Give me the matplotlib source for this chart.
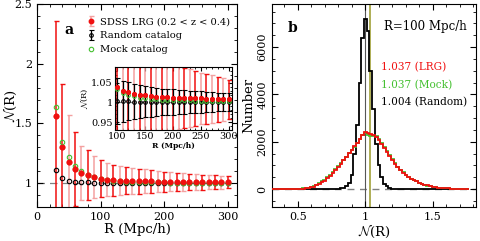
import matplotlib
matplotlib.use("Agg")
import matplotlib.pyplot as plt
from matplotlib.ticker import MultipleLocator, FormatStrFormatter
import numpy as np

plt.rcParams["font.family"] = ["DejaVu Serif"]
plt.rcParams["mathtext.fontset"] = "cm"

# panel a: N(R) versus R
radius = [30, 40, 50, 60, 70, 80, 90, 100, 110, 120, 130, 140, 150, 160, 170,
          180, 190, 200, 210, 220, 230, 240, 250, 260, 270, 280, 290, 300]
lrg_n = [1.56, 1.30, 1.18, 1.12, 1.085, 1.065, 1.05, 1.038, 1.030, 1.026, 1.022,
         1.020, 1.018, 1.016, 1.015, 1.014, 1.013, 1.012, 1.012, 1.011, 1.011,
         1.010, 1.010, 1.009, 1.009, 1.008, 1.008, 1.008]
lrg_err = [0.80, 0.53, 0.39, 0.31, 0.23, 0.21, 0.175, 0.155, 0.14, 0.13, 0.12,
           0.115, 0.11, 0.105, 0.10, 0.095, 0.09, 0.085, 0.08, 0.077, 0.073,
           0.07, 0.066, 0.063, 0.06, 0.057, 0.054, 0.05]
mock_n = [1.635, 1.345, 1.215, 1.14, 1.10, 1.07, 1.05, 1.033, 1.024, 1.020,
          1.016, 1.012, 1.010, 1.009, 1.008, 1.007, 1.006, 1.006, 1.005, 1.005,
          1.005, 1.004, 1.004, 1.004, 1.004, 1.003, 1.003, 1.003]
random_n = [1.11, 1.045, 1.02, 1.012, 1.008, 1.006, 1.005, 1.004, 1.003, 1.003,
            1.002, 1.002, 1.002, 1.002, 1.001, 1.001, 1.001, 1.001, 1.001, 1.001,
            1.001, 1.001, 1.001, 1.001, 1.001, 1.001, 1.001, 1.001]
random_err = [0.30, 0.20, 0.14, 0.11, 0.09, 0.075, 0.065, 0.058, 0.052, 0.048,
              0.045, 0.042, 0.040, 0.038, 0.036, 0.034, 0.033, 0.032, 0.031,
              0.030, 0.029, 0.028, 0.027, 0.026, 0.025, 0.024, 0.023, 0.022]

# panel b: histograms of N(R) at R = 100 Mpc/h, bins of 0.02
bin_width = 0.02
random_first_center = 0.80
random_counts = [15, 30, 60, 110, 250, 600, 1500, 2700, 4500, 6400, 7200, 6700,
                 5000, 3400, 1900, 1000, 500, 220, 110, 50, 20, 5]
broad_first_center = 0.50
lrg_counts = [5, 10, 20, 30, 50, 70, 100, 150, 210, 280, 360, 450, 560, 680,
              800, 930, 1070, 1220, 1370, 1520, 1660, 1800, 1950, 2120, 2300,
              2420, 2360, 2330, 2280, 2210, 2090, 1900, 1730, 1570, 1400, 1240,
              1080, 940, 800, 690, 590, 500, 430, 370, 320, 270, 220, 180, 150,
              120, 100, 80, 65, 50, 40, 30, 25, 20, 15, 10, 8, 5, 3]
mock_counts = [8, 15, 25, 40, 60, 90, 125, 180, 250, 320, 400, 490, 600, 710,
               830, 960, 1090, 1230, 1370, 1510, 1650, 1790, 1940, 2110, 2280,
               2380, 2300, 2250, 2240, 2230, 2130, 1960, 1780, 1600, 1420, 1260,
               1100, 950, 810, 700, 590, 500, 430, 370, 320, 265, 215, 175, 145,
               118, 98, 80, 64, 50, 40, 31, 25, 20, 15, 10, 8, 5, 3]
hist_range = (0.29, 1.77)
mean_random = 1.004
mean_lrg = 1.037

RED = "#f01010"
PINK = "#f4a0a0"
GREEN = "#44c030"


def full_counts(first_center, counts, edges):
    """Place a list of bin counts into the full set of bins."""
    full = np.zeros(len(edges) - 1)
    start = int(round((first_center - bin_width / 2 - edges[0]) / bin_width))
    full[start:start + len(counts)] = counts
    return full


def style_axes(ax, labelsize):
    ax.tick_params(which="both", direction="in", top=True, right=True,
                   labelsize=labelsize)
    ax.tick_params(which="major", length=4, width=0.8)
    ax.tick_params(which="minor", length=2, width=0.6)


def draw_points(ax, r, n, err, mock, rnd, rnd_err=None, ms=3.2):
    r = np.asarray(r)
    red_idx = [i for i, v in enumerate(r) if (v // 10) % 2 == 0 or v < 40]
    pink_idx = [i for i in range(len(r)) if i not in red_idx]
    handles = {}
    ax.axhline(1.0, color="gray", lw=0.9, ls=(0, (6, 4)), zorder=1)
    if rnd_err is not None:
        handles["random"] = ax.errorbar(
            r, rnd, yerr=rnd_err, fmt="o", mfc="none", mec="black", ms=ms,
            mew=0.8, ecolor="black", elinewidth=0.9, capsize=1.8, zorder=3)
    else:
        ax.plot(r, rnd, "o", mfc="none", mec="black", ms=ms, mew=0.8, zorder=3)
    handles["pink"] = ax.errorbar(
        r[pink_idx], np.asarray(n)[pink_idx], yerr=np.asarray(err)[pink_idx],
        fmt="o", color=RED, ms=ms, ecolor=PINK, elinewidth=1.1, capsize=1.8,
        zorder=2)
    handles["red"] = ax.errorbar(
        r[red_idx], np.asarray(n)[red_idx], yerr=np.asarray(err)[red_idx],
        fmt="o", color=RED, ms=ms, ecolor=RED, elinewidth=1.1, capsize=1.8,
        zorder=2)
    handles["mock"], = ax.plot(r, mock, "o", mfc="none", mec=GREEN, ms=ms,
                               mew=0.8, zorder=4)
    ax.plot(r, n, "o", color=RED, ms=ms, zorder=5)
    return handles


fig = plt.figure(figsize=(4.8, 2.41), dpi=100)
ax_a = fig.add_axes([0.077, 0.141, 0.417, 0.842])
ax_b = fig.add_axes([0.567, 0.141, 0.425, 0.842])
ax_in = fig.add_axes([0.2396, 0.4606, 0.2437, 0.2614])

# panel a
h_main = draw_points(ax_a, radius, lrg_n, lrg_err, mock_n, random_n)
ax_a.set_xlim(0, 315)
ax_a.set_ylim(0.8, 2.5)
ax_a.xaxis.set_major_locator(MultipleLocator(100))
ax_a.xaxis.set_minor_locator(MultipleLocator(20))
ax_a.yaxis.set_major_locator(MultipleLocator(0.5))
ax_a.yaxis.set_minor_locator(MultipleLocator(0.1))
ax_a.yaxis.set_major_formatter(FormatStrFormatter("%g"))
style_axes(ax_a, 8)
ax_a.set_xlabel("R (Mpc/h)", fontsize=9.5)
ax_a.set_ylabel(r"$\mathcal{N}$(R)", fontsize=9.5)
ax_a.xaxis.set_label_coords(0.5, -0.08)
ax_a.yaxis.set_label_coords(-0.09, 0.5)
ax_a.text(0.16, 0.87, "a", transform=ax_a.transAxes, fontsize=10,
          fontweight="bold", ha="center", va="center")

# inset
h_in = draw_points(ax_in, radius[7:], lrg_n[7:], lrg_err[7:], mock_n[7:],
                   random_n[7:], rnd_err=random_err[7:], ms=2.6)
ax_in.set_xlim(96, 306)
ax_in.set_ylim(0.93, 1.09)
ax_in.xaxis.set_major_locator(MultipleLocator(50))
ax_in.xaxis.set_minor_locator(MultipleLocator(10))
ax_in.yaxis.set_major_locator(MultipleLocator(0.05))
ax_in.yaxis.set_minor_locator(MultipleLocator(0.01))
ax_in.yaxis.set_major_formatter(FormatStrFormatter("%g"))
style_axes(ax_in, 7)
ax_in.tick_params(which="major", length=3)
ax_in.tick_params(which="minor", length=1.5)
ax_in.tick_params(axis="both", pad=1.5)
ax_in.set_xlabel("R (Mpc/h)", fontsize=5.5, fontweight="bold", labelpad=1)
ax_in.set_ylabel(r"$\mathcal{N}$(R)", fontsize=6, labelpad=1)

ax_a.legend([h_main["pink"], h_in["random"], h_main["mock"]],
            ["SDSS LRG (0.2 < z < 0.4)", "Random catalog", "Mock catalog"],
            loc="upper left", bbox_to_anchor=(0.25, 0.935), frameon=False,
            fontsize=7.1, handlelength=0.8, handletextpad=0.5,
            labelspacing=0.5, borderpad=0, borderaxespad=0)

# panel b
edges = hist_range[0] + bin_width * np.arange(
    int(round((hist_range[1] - hist_range[0]) / bin_width)) + 1)
ax_b.axhline(0, color="gray", lw=1.0, ls=(0, (5, 4)), zorder=1)
ax_b.axvline(1.0, color="#555555", lw=0.8, zorder=1)
ax_b.axvline(mean_lrg, color="#a8a848", lw=1.3, zorder=1)
ax_b.stairs(full_counts(random_first_center, random_counts, edges), edges,
            color="black", lw=1.3, zorder=2)
ax_b.stairs(full_counts(broad_first_center, mock_counts, edges), edges,
            color=GREEN, lw=1.3, zorder=3)
ax_b.stairs(full_counts(broad_first_center, lrg_counts, edges), edges,
            color=RED, lw=1.3, zorder=4)
ax_b.set_xlim(0.31, 1.82)
ax_b.set_ylim(-760, 7820)
ax_b.xaxis.set_major_locator(MultipleLocator(0.5))
ax_b.xaxis.set_minor_locator(MultipleLocator(0.1))
ax_b.xaxis.set_major_formatter(FormatStrFormatter("%g"))
ax_b.yaxis.set_major_locator(MultipleLocator(2000))
ax_b.yaxis.set_minor_locator(MultipleLocator(500))
style_axes(ax_b, 8)
for lab in ax_b.get_yticklabels():
    lab.set_rotation(90)
    lab.set_va("center")
ax_b.set_xlabel(r"$\mathcal{N}$(R)", fontsize=9.5)
ax_b.set_ylabel("Number", fontsize=9.5)
ax_b.xaxis.set_label_coords(0.5, -0.08)
ax_b.yaxis.set_label_coords(-0.085, 0.5)
ax_b.text(0.10, 0.88, "b", transform=ax_b.transAxes, fontsize=10,
          fontweight="bold", ha="center", va="center")
ax_b.text(0.55, 0.89, "R=100 Mpc/h", transform=ax_b.transAxes, fontsize=8.5,
          ha="left", va="center")
ax_b.text(0.535, 0.69, f"{mean_lrg:.3f} (LRG)", transform=ax_b.transAxes,
          fontsize=7.6, color=RED, ha="left", va="center")
ax_b.text(0.535, 0.60, f"{mean_lrg:.3f} (Mock)", transform=ax_b.transAxes,
          fontsize=7.6, color=GREEN, ha="left", va="center")
ax_b.text(0.535, 0.515, f"{mean_random:.3f} (Random)", transform=ax_b.transAxes,
          fontsize=7.6, color="black", ha="left", va="center")

fig.savefig("out.png", dpi=100)
